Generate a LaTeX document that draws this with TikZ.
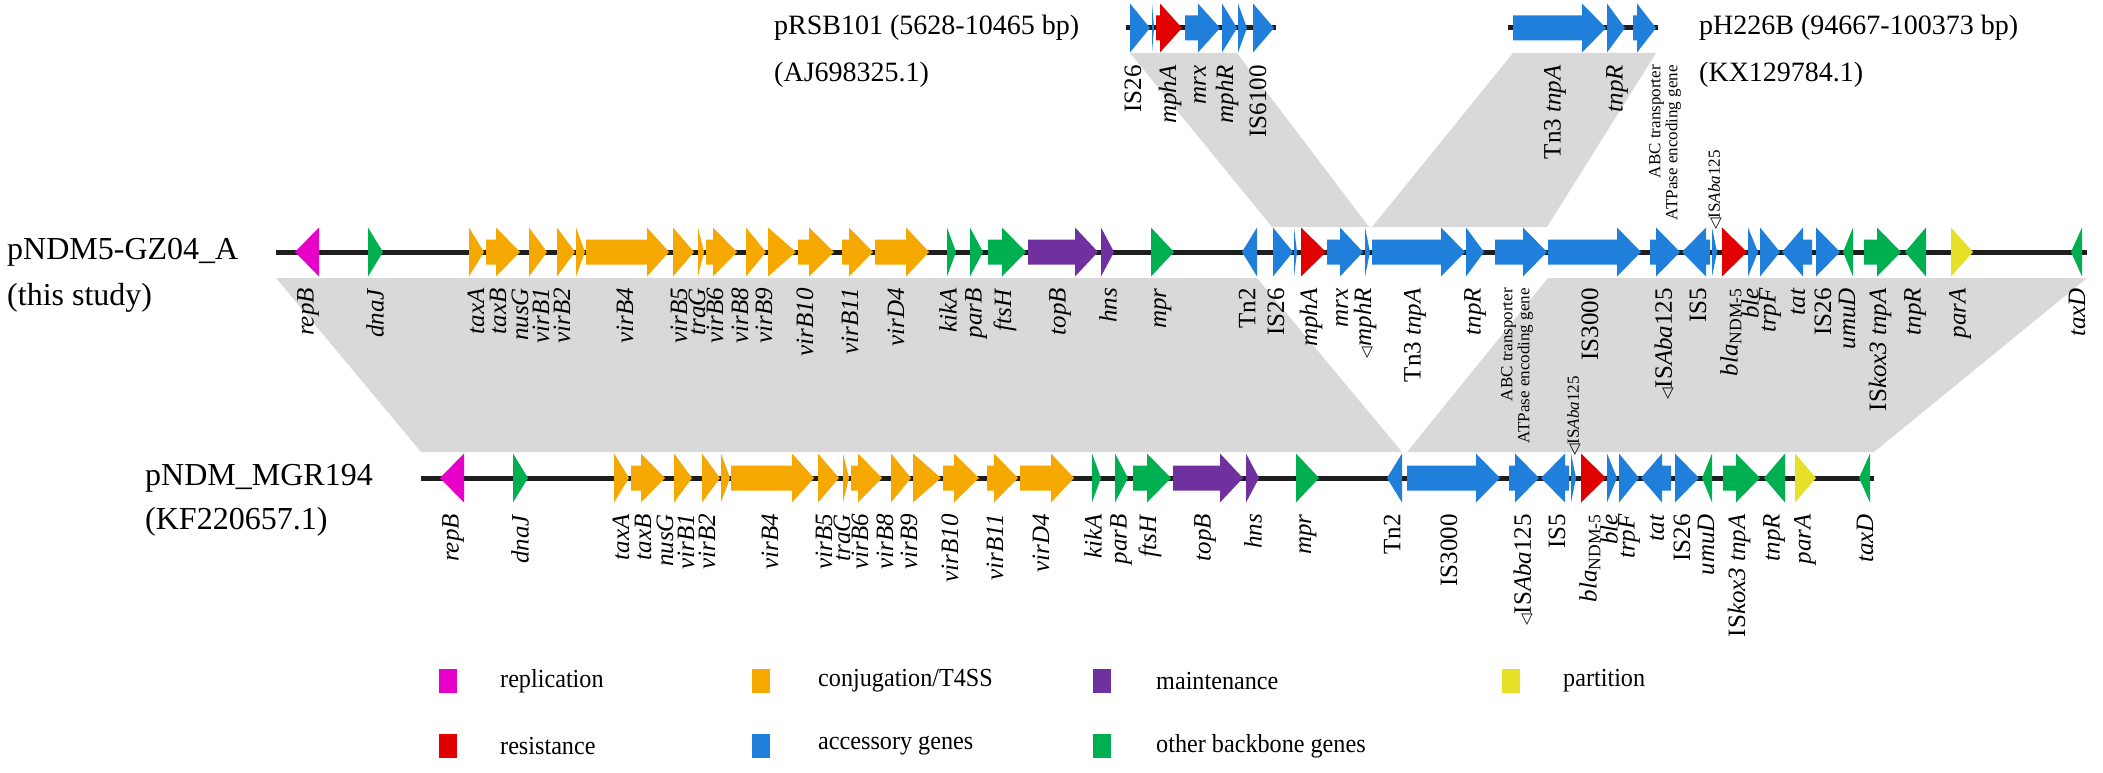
\documentclass[tikz,border=0pt]{standalone}
\usepackage{fontspec}
\setmainfont{Liberation Serif}
\newfontfamily\djv{DejaVu Sans}
\definecolor{crep}{RGB}{230,0,200}
\definecolor{ccon}{RGB}{245,168,0}
\definecolor{cmai}{RGB}{112,48,160}
\definecolor{cpar}{RGB}{230,225,40}
\definecolor{cres}{RGB}{225,0,0}
\definecolor{cacc}{RGB}{31,127,219}
\definecolor{coth}{RGB}{0,176,80}
\definecolor{cband}{RGB}{217,217,217}
\definecolor{cline}{RGB}{30,30,30}
\newcommand\lblf{\fontsize{25}{28}\selectfont}
\newcommand\smlf{\fontsize{17}{17}\selectfont}
\newcommand\ttlf{\fontsize{28}{32}\selectfont}
\newcommand\bigf{\fontsize{32}{36}\selectfont}
\newcommand\legf{\fontsize{26}{30}\selectfont}
\newcommand\tri{{\djv\fontsize{15}{15}\selectfont ◁}}
\newcommand\sx[1]{\scalebox{0.93}[1]{#1}}
\newcounter{nc}
\def\Y{252}
\newcommand\g[4]{\fill[#4] (#1,\Y-12.5) -- (#2,\Y-12.5) -- (#2,\Y-24.5) -- (#3,\Y) -- (#2,\Y+24.5) -- (#2,\Y+12.5) -- (#1,\Y+12.5) -- cycle;}
\newcommand\lb[2]{\stepcounter{nc}\node[lab] (n\arabic{nc}) at (#1,288) {#2};}
\newcommand\lbt[2]{\stepcounter{nc}\node[lab] (n\arabic{nc}) at (#1,65) {#2};}
% gene sets
\newcommand\partone{%
\g{319}{319}{295}{crep}
\g{368}{368}{383}{coth}
\g{469}{469}{484}{ccon}
\g{486}{496}{520}{ccon}
\g{529}{529}{547}{ccon}
\g{557}{557}{575}{ccon}
\g{576}{576}{585}{ccon}
\g{586}{647}{669}{ccon}
\g{673}{673}{694}{ccon}
\g{698}{698}{704}{ccon}
\g{706}{713}{737}{ccon}
\g{746}{746}{766}{ccon}
\g{768}{768}{796}{ccon}
\g{798}{809}{834}{ccon}
\g{842}{849}{873}{ccon}
\g{875}{906}{929}{ccon}
\g{947}{947}{956}{coth}
\g{970}{970}{983}{coth}
\g{988}{1002}{1026}{coth}
\g{1028}{1075}{1098}{cmai}
\g{1101}{1101}{1114}{cmai}
\g{1151}{1151}{1174}{coth}
\g{1257}{1257}{1242}{cacc}}
\newcommand\parttwo{%
\g{1548}{1617}{1641}{cacc}
\g{1650}{1656}{1680}{cacc}
\g{1710}{1706}{1682}{cacc}
\g{1712}{1712}{1717}{cacc}
\g{1722}{1722}{1747}{cres}
\g{1748}{1748}{1758}{cacc}
\g{1760}{1760}{1780}{cacc}
\g{1812}{1803}{1782}{cacc}
\g{1816}{1816}{1840}{cacc}
\g{1853}{1853}{1843}{coth}
\g{1864}{1877}{1901}{coth}
\g{1926}{1926}{1905}{coth}}
\newcommand\labone{%
\lb{308}{\textit{repB}}
\lb{375}{\textit{dnaJ}}
\lb{476}{\textit{taxA}}
\lb{498}{\textit{taxB}}
\lb{520}{\textit{nusG}}
\lb{541}{\textit{virB1}}
\lb{562}{\textit{virB2}}
\lb{625}{\textit{virB4}}
\lb{679}{\textit{virB5}}
\lb{697}{\textit{traG}}
\lb{715}{\textit{virB6}}
\lb{740}{\textit{virB8}}
\lb{764}{\textit{virB9}}
\lb{805}{\textit{virB10}}
\lb{850}{\textit{virB11}}
\lb{896}{\textit{virD4}}
\lb{948}{\textit{kikA}}
\lb{976}{\textit{parB}}
\lb{1005}{\textit{ftsH}}
\lb{1060}{\textit{topB}}
\lb{1108}{\textit{hns}}
\lb{1163}{\textit{mpr}}
\lb{1247}{Tn2}}
\newcommand\labtwo{%
\lb{1590}{IS3000}
\lb{1664}{\tri IS\textit{Aba}125}
\lb{1698}{IS5}
\lb{1731}{\textit{bla}\textsubscript{NDM-5}}
\lb{1750}{\textit{ble}}
\lb{1770}{\textit{trpF}}
\lb{1798}{\textit{tat}}
\lb{1823}{IS26}
\lb{1847}{\textit{umuD}}
\lb{1880}{IS\textit{kox3} \textit{tnpA}}
\lb{1915}{\textit{tnpR}}
\stepcounter{nc}\node[labup] (n\arabic{nc}) at (1715,230) {\tri IS\textit{Aba}125};}
\tikzset{
 trk/.style={draw=cline,line width=5pt},
 lab/.style={rotate=90,anchor=east,inner sep=0pt,font=\lblf},
 labup/.style={rotate=90,anchor=west,inner sep=0pt,font=\smlf},
 abc/.style={rotate=90,anchor=east,inner sep=0pt,font=\smlf,align=right},
 ttl/.style={anchor=west,inner sep=0pt,font=\ttlf},
 btl/.style={anchor=west,inner sep=0pt,font=\bigf},
 lsq/.style={anchor=west,minimum width=18pt,minimum height=24pt,inner sep=0pt},
 ltx/.style={anchor=west,inner sep=0pt,font=\legf}
}
\begin{document}
\begin{tikzpicture}[x=1pt,y=-1pt]
\useasboundingbox (0,0) rectangle (2103,773);
% homology bands
\fill[cband] (276,278) -- (1257,278) -- (1402,452) -- (421,452) -- cycle;
\fill[cband] (1548,278) -- (2087,278) -- (1874,452) -- (1407,452) -- cycle;
\fill[cband] (1130,53) -- (1237,53) -- (1369,227) -- (1272,227) -- cycle;
\fill[cband] (1513,53) -- (1656,53) -- (1547,227) -- (1372,227) -- cycle;
% backbone lines
\draw[trk] (1126,28) -- (1276,28);
\draw[trk] (1508,28) -- (1658,28);
\draw[trk] (276,252) -- (2087,252);
\draw[trk] (421,478) -- (1874,478);
% top left track pRSB101
\def\Y{28}
\g{1130}{1130}{1150}{cacc}
\g{1152}{1152}{1154}{cacc}
\g{1156}{1160}{1182}{cres}
\g{1185}{1198}{1220}{cacc}
\g{1222}{1222}{1237}{cacc}
\g{1238}{1238}{1247}{cacc}
\g{1253}{1253}{1274}{cacc}
% top right track pH226B
\g{1513}{1582}{1606}{cacc}
\g{1607}{1607}{1625}{cacc}
\g{1633}{1637}{1656}{cacc}
% main track
\def\Y{252}
\partone
\g{1273}{1273}{1293}{cacc}
\g{1294}{1294}{1297}{cacc}
\g{1301}{1301}{1326}{cres}
\g{1327}{1340}{1363}{cacc}
\g{1365}{1365}{1370}{cacc}
\g{1372}{1441}{1465}{cacc}
\g{1466}{1466}{1484}{cacc}
\g{1495}{1523}{1547}{cacc}
\parttwo
\g{1951}{1951}{1973}{cpar}
\g{2082}{2082}{2071}{coth}
% bottom track
\begin{scope}[xshift=145pt,yshift=-226pt]
\partone
\labone
\end{scope}
\begin{scope}[xshift=-141pt,yshift=-226pt]
\parttwo
\labtwo
\end{scope}
\def\Y{478}
\g{1795}{1795}{1816}{cpar}
\g{1870}{1870}{1859}{coth}
\stepcounter{nc}\node[lab] (n\arabic{nc}) at (1805,514) {\textit{parA}};
\stepcounter{nc}\node[lab] (n\arabic{nc}) at (1865,514) {\textit{taxD}};
% main labels
\labone
\lb{1276}{IS26}
\lb{1311}{\textit{mphA}}
\lb{1342}{\textit{mrx}}
\lb{1365}{\tri\textit{mphR}}
\lb{1415}{Tn3 \textit{tnpA}}
\lb{1475}{\textit{tnpR}}
\node[abc] (abcM) at (1517,288) {ABC transporter\\ATPase encoding gene};
\labtwo
\lb{1960}{\textit{parA}}
\lb{2077}{\textit{taxD}}
% top labels
\lbt{1133}{IS26}
\lbt{1170}{\textit{mphA}}
\lbt{1200}{\textit{mrx}}
\lbt{1227}{\textit{mphR}}
\lbt{1258}{IS6100}
\lbt{1555}{Tn3 \textit{tnpA}}
\lbt{1617}{\textit{tnpR}}
\node[abc] (abcT) at (1665,65) {ABC transporter\\ATPase encoding gene};
% titles
\node[ttl] (t1) at (774,28) {pRSB101 (5628-10465 bp)};
\node[ttl] (t2) at (774,75) {(AJ698325.1)};
\node[ttl] (t3) at (1699,28) {pH226B (94667-100373 bp)};
\node[ttl] (t4) at (1699,75) {(KX129784.1)};
\node[btl] (t5) at (7,252) {pNDM5-GZ04\_A};
\node[btl] (t6) at (7,298) {(this study)};
\node[btl] (t7) at (145,478) {pNDM\_MGR194};
\node[btl] (t8) at (145,522) {(KF220657.1)};
% legend
\node[lsq,fill=crep] (k1) at (439,681) {};
\node[ltx] (x1) at (500,681) {\sx{replication}};
\node[lsq,fill=ccon] (k2) at (752,681) {};
\node[ltx] (x2) at (818,681) {\sx{conjugation/T4SS}};
\node[lsq,fill=cmai] (k3) at (1093,681) {};
\node[ltx] (x3) at (1156,681) {\sx{maintenance}};
\node[lsq,fill=cpar] (k4) at (1502,681) {};
\node[ltx] (x4) at (1563,681) {\sx{partition}};
\node[lsq,fill=cres] (k5) at (439,746) {};
\node[ltx] (x5) at (500,746) {\sx{resistance}};
\node[lsq,fill=cacc] (k6) at (752,746) {};
\node[ltx] (x6) at (818,746) {\sx{accessory genes}};
\node[lsq,fill=coth] (k7) at (1093,746) {};
\node[ltx] (x7) at (1156,746) {\sx{other backbone genes}};
\end{tikzpicture}
\end{document}
